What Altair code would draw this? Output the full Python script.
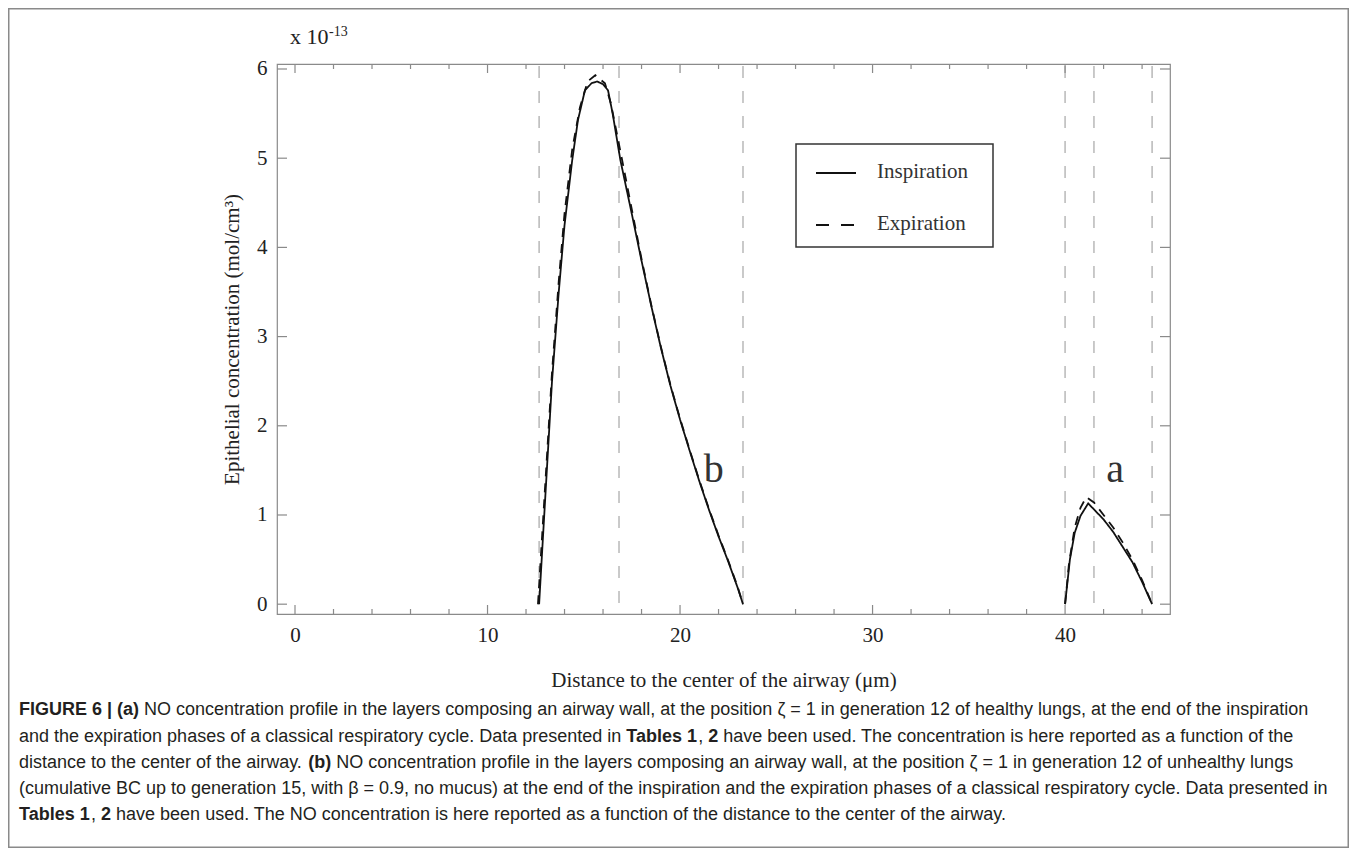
import altair as alt
import pandas as pd

# ---------------- data ----------------
# profile b (unhealthy lungs)
b_insp_x = [12.68, 13.0, 13.35, 13.7, 14.0, 14.4, 14.7, 15.06, 15.4, 15.69, 16.0, 16.26, 16.5, 16.9,
            17.5, 18.0, 18.5, 19.0, 19.5, 20.0, 20.5, 21.0, 21.5, 22.0, 22.5, 23.0, 23.27]
b_insp_y = [0.0, 1.2, 2.5, 3.5, 4.25, 4.98, 5.43, 5.76, 5.84, 5.86, 5.83, 5.76, 5.5, 4.98,
            4.37, 3.85, 3.35, 2.88, 2.45, 2.07, 1.72, 1.38, 1.06, 0.76, 0.48, 0.18, 0.0]
b_exp_x = [12.62, 13.0, 13.35, 13.7, 14.0, 14.4, 14.8, 15.2, 15.6, 16.1, 16.4, 16.9, 17.5,
           18.0, 18.5, 19.0, 19.5, 20.0, 20.5, 21.0, 21.5, 22.0, 22.5, 23.0, 23.27]
b_exp_y = [0.0, 1.35, 2.6, 3.62, 4.38, 5.1, 5.57, 5.86, 5.93, 5.84, 5.62, 5.08, 4.42,
           3.87, 3.36, 2.89, 2.46, 2.08, 1.73, 1.39, 1.07, 0.77, 0.49, 0.19, 0.0]
# profile a (healthy lungs)
a_insp_x = [40.0, 40.25, 40.5, 40.8, 41.2, 41.6, 42.0, 42.5, 43.0, 43.5, 44.0, 44.52]
a_insp_y = [0.0, 0.5, 0.8, 0.99, 1.13, 1.04, 0.95, 0.81, 0.64, 0.47, 0.25, 0.0]
a_exp_x = [40.0, 40.2, 40.5, 40.8, 41.1, 41.5, 42.0, 42.5, 43.0, 43.5, 44.0, 44.52]
a_exp_y = [0.0, 0.45, 0.86, 1.08, 1.2, 1.14, 1.0, 0.86, 0.69, 0.5, 0.27, 0.0]

layer_bounds = [12.68, 16.83, 23.27, 40.0, 41.5, 44.52]
x_major = [0, 10, 20, 30, 40]
x_minor = [2, 4, 6, 8, 12, 14, 16, 18, 22, 24, 26, 28, 32, 34, 36, 38, 42, 44]
y_ticks = [0, 1, 2, 3, 4, 5, 6]
phases = ["Inspiration", "Expiration"]
profile_names = ["b", "a"]
profile_label_x = [21.75, 42.6]
profile_label_y = [1.5, 1.5]

x_title = "Distance to the center of the airway (μm)"
y_title = "Epithelial concentration (mol/cm³)"
exp_base = "x 10"
exp_power = "-13"

# caption: (text, bold) fragments per line
caption_lines = [
    [("FIGURE 6 | (a) ", True),
     ("NO concentration profile in the layers composing an airway wall, at the position ζ = 1 in generation 12 of healthy lungs, at the end of the inspiration", False)],
    [("and the expiration phases of a classical respiratory cycle. Data presented in ", False),
     ("Tables 1", True), (", ", False), ("2", True),
     (" have been used. The concentration is here reported as a function of the", False)],
    [("distance to the center of the airway. ", False), ("(b) ", True),
     ("NO concentration profile in the layers composing an airway wall, at the position ζ = 1 in generation 12 of unhealthy lungs", False)],
    [("(cumulative BC up to generation 15, with β = 0.9, no mucus) at the end of the inspiration and the expiration phases of a classical respiratory cycle. Data presented in", False)],
    [("Tables 1", True), (", ", False), ("2", True),
     (" have been used. The NO concentration is here reported as a function of the distance to the center of the airway.", False)],
]

# ---------------- layout ----------------
W, H = 893, 550
OX, OY = 277, 64           # plot origin on the page
PAD = {"left": OX - 8, "top": OY - 8, "right": 1341 - (OX - 8) - W, "bottom": 840 - (OY - 8) - H}

SERIF = "Liberation Serif"
SANS = "Liberation Sans"
CAP_SIZE = 18
CAP_X0 = 19
CAP_Y = [710, 737, 763, 789, 815]

# Arial / Liberation Sans advance widths (1/1000 em) used to flow the caption fragments
_REG = {" ": 278, ",": 278, ".": 278, "(": 333, ")": 333, "=": 584, "|": 260, "-": 333,
        "ζ": 450, "β": 575,
        "a": 556, "b": 556, "c": 500, "d": 556, "e": 556, "f": 278, "g": 556, "h": 556, "i": 222,
        "j": 222, "k": 500, "l": 222, "m": 833, "n": 556, "o": 556, "p": 556, "q": 556, "r": 333,
        "s": 500, "t": 278, "u": 556, "v": 500, "w": 722, "x": 500, "y": 500, "z": 500,
        "A": 667, "B": 667, "C": 722, "D": 722, "E": 667, "F": 611, "G": 778, "H": 722, "I": 278,
        "N": 722, "O": 778, "R": 722, "T": 611, "U": 722}
_BOLD = {" ": 278, ",": 278, "(": 333, ")": 333, "|": 280,
         "a": 556, "b": 611, "e": 556, "l": 278, "s": 556,
         "E": 667, "F": 611, "G": 778, "I": 278, "R": 722, "T": 611, "U": 722}


def text_width(s, size, bold):
    table = _BOLD if bold else _REG
    tot = 0
    for ch in s:
        if ch.isdigit():
            tot += 556
        else:
            tot += table.get(ch, _REG.get(ch, 556))
    return tot * size / 1000.0


xs = alt.Scale(domain=[-0.935, 45.45], nice=False, zero=False)
ys = alt.Scale(domain=[-0.11, 6.056], nice=False, zero=False)
x_axis = alt.Axis(values=x_major, labelPadding=10, titlePadding=24, title=x_title, labelFlush=False)
y_axis = alt.Axis(values=y_ticks, labelPadding=10, titlePadding=14, title=y_title)

rows = []
for prof, px, py, ph in [("b", b_insp_x, b_insp_y, "Inspiration"), ("b", b_exp_x, b_exp_y, "Expiration"),
                         ("a", a_insp_x, a_insp_y, "Inspiration"), ("a", a_exp_x, a_exp_y, "Expiration")]:
    for xv, yv in zip(px, py):
        rows.append({"x": xv, "y": yv, "phase": ph, "profile": prof + ph})
curve_df = pd.DataFrame(rows)

one = pd.DataFrame({"k": [0]})

layers = []

# outer figure border
layers.append(alt.Chart(one).mark_rect(fillOpacity=0, stroke="#8a8a8a", strokeWidth=1.5).encode(
    x=alt.value(-(OX - 8) + 0.75), x2=alt.value(W + PAD["right"] - 0.75),
    y=alt.value(-(OY - 8) + 0.75), y2=alt.value(H + PAD["bottom"] - 0.75)))

# layer boundaries (gray dashed)
layers.append(alt.Chart(pd.DataFrame({"v": layer_bounds})).mark_rule(
    color="#b8b8b8", strokeWidth=1.5, strokeDash=[12, 13]).encode(
    x=alt.X("v:Q", scale=xs, axis=x_axis), y=alt.value(2), y2=alt.value(H)))

# ticks (inward, all four sides)
tick_col = "#8a8a8a"
for vals, ln in [(x_major, 9), (x_minor, 5)]:
    d = pd.DataFrame({"v": vals})
    layers.append(alt.Chart(d).mark_rule(color=tick_col, strokeWidth=1.2).encode(
        x=alt.X("v:Q", scale=xs, axis=x_axis), y=alt.value(H), y2=alt.value(H - ln)))
    layers.append(alt.Chart(d).mark_rule(color=tick_col, strokeWidth=1.2).encode(
        x=alt.X("v:Q", scale=xs, axis=x_axis), y=alt.value(0), y2=alt.value(ln)))
dy = pd.DataFrame({"v": y_ticks})
layers.append(alt.Chart(dy).mark_rule(color=tick_col, strokeWidth=1.2).encode(
    y=alt.Y("v:Q", scale=ys, axis=y_axis), x=alt.value(0), x2=alt.value(10)))
layers.append(alt.Chart(dy).mark_rule(color=tick_col, strokeWidth=1.2).encode(
    y=alt.Y("v:Q", scale=ys, axis=y_axis), x=alt.value(W), x2=alt.value(W - 10)))

# curves
layers.append(alt.Chart(curve_df).mark_line(color="#111111", strokeWidth=1.8).encode(
    x=alt.X("x:Q", scale=xs, axis=x_axis),
    y=alt.Y("y:Q", scale=ys, axis=y_axis),
    strokeDash=alt.StrokeDash("phase:N", scale=alt.Scale(domain=phases, range=[[1, 0], [9, 7]]), legend=None),
    detail="profile:N"))

# profile labels a / b
layers.append(alt.Chart(pd.DataFrame({"x": profile_label_x, "y": profile_label_y, "lab": profile_names}))
              .mark_text(font=SERIF, fontSize=40, color="#333333").encode(
    x=alt.X("x:Q", scale=xs, axis=x_axis), y=alt.Y("y:Q", scale=ys, axis=y_axis), text="lab:N"))

# legend (drawn)
LX0, LX1, LY0, LY1 = 796 - OX, 993 - OX, 144 - OY, 247 - OY
layers.append(alt.Chart(one).mark_rect(fill="white", stroke="#333333", strokeWidth=1.5).encode(
    x=alt.value(LX0), x2=alt.value(LX1), y=alt.value(LY0), y2=alt.value(LY1)))
leg_y = [173 - OY, 225 - OY]
leg_dash = [[1, 0], [13, 12]]
for i, ph in enumerate(phases):
    layers.append(alt.Chart(one).mark_rule(color="#111111", strokeWidth=2, strokeDash=leg_dash[i]).encode(
        x=alt.value(816 - OX), x2=alt.value(856 - OX), y=alt.value(leg_y[i])))
    layers.append(alt.Chart(pd.DataFrame({"t": [ph]})).mark_text(
        font=SERIF, fontSize=21, color="#333333", align="left", baseline="middle").encode(
        x=alt.value(877 - OX), y=alt.value(leg_y[i] - 1), text="t:N"))

# exponent label
layers.append(alt.Chart(pd.DataFrame({"t": [exp_base]})).mark_text(
    font=SERIF, fontSize=22, color="#222222", align="left", baseline="alphabetic").encode(
    x=alt.value(290 - OX), y=alt.value(44 - OY), text="t:N"))
layers.append(alt.Chart(pd.DataFrame({"t": [exp_power]})).mark_text(
    font=SERIF, fontSize=14, color="#222222", align="left", baseline="alphabetic").encode(
    x=alt.value(329 - OX), y=alt.value(36 - OY), text="t:N"))

# caption (fragments flowed left to right; surrounding spaces become advances)
for li, frags in enumerate(caption_lines):
    xpos = CAP_X0
    for txt, bold in frags:
        lead = len(txt) - len(txt.lstrip(" "))
        core = txt.strip(" ")
        trail = len(txt) - len(txt.rstrip(" "))
        xpos += text_width(" " * lead, CAP_SIZE, False)
        layers.append(alt.Chart(pd.DataFrame({"t": [core]})).mark_text(
            font=SANS, fontSize=CAP_SIZE, color="#231f20", align="left", baseline="middle",
            fontWeight="bold" if bold else "normal").encode(
            x=alt.value(xpos - OX), y=alt.value(CAP_Y[li] - OY), text="t:N"))
        xpos += text_width(core, CAP_SIZE, bold) + text_width(" " * trail, CAP_SIZE, False)

chart = alt.layer(*layers).properties(
    width=W, height=H,
    autosize=alt.AutoSizeParams(type="none"),
    padding=PAD,
).configure_view(stroke="#8a8a8a", strokeWidth=1.2).configure_axis(
    grid=False, ticks=False, domain=False,
    labelFont=SERIF, labelFontSize=21, labelColor="#222222",
    titleFont=SERIF, titleFontSize=21, titleFontWeight="normal", titleColor="#222222",
)

chart.save("out.html", embed_options={"renderer": "svg", "actions": False})
